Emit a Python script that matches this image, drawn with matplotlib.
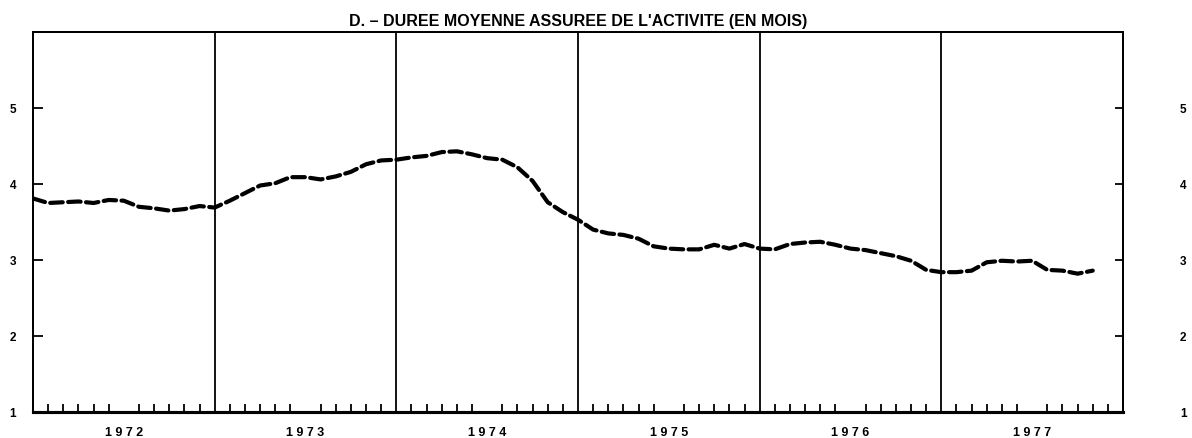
import numpy as np
import matplotlib
matplotlib.use("Agg")
import matplotlib.pyplot as plt

# monthly values, Jan 1972 .. Nov 1977 (months)
START_YEAR = 1972
YEARS = [1972, 1973, 1974, 1975, 1976, 1977]
DUREE = [
    3.81, 3.75, 3.76, 3.77, 3.75, 3.79, 3.78, 3.70, 3.68, 3.65, 3.67, 3.71,
    3.69, 3.78, 3.88, 3.98, 4.01, 4.09, 4.09, 4.06, 4.10, 4.16, 4.26, 4.31,
    4.32, 4.35, 4.37, 4.42, 4.43, 4.39, 4.34, 4.32, 4.22, 4.04, 3.76, 3.63,
    3.53, 3.40, 3.35, 3.33, 3.28, 3.18, 3.15, 3.14, 3.14, 3.20, 3.15, 3.21,
    3.15, 3.14, 3.21, 3.23, 3.24, 3.20, 3.15, 3.13, 3.09, 3.05, 2.99, 2.87,
    2.84, 2.84, 2.86, 2.97, 2.99, 2.98, 2.99, 2.87, 2.86, 2.82, 2.86,
]
Y_TICKS = [1, 2, 3, 4, 5]

FONT = "Liberation Sans"

fig = plt.figure(figsize=(11.92, 4.39), dpi=100)
ax = fig.add_axes([33 / 1192, 26 / 439, 1090 / 1192, 380 / 439])

x = START_YEAR + np.arange(len(DUREE)) / 12.0
ax.plot(x, DUREE, color="black", lw=3.0, dashes=(3.0, 1.3),
        dash_capstyle="round", dash_joinstyle="round")

for yr in YEARS[1:]:
    ax.axvline(yr, color="black", lw=1.3)

ax.set_xlim(YEARS[0], YEARS[-1] + 1)
ax.set_ylim(1, 6)

# x axis: year labels in the middle, month ticks inward
ax.set_xticks([y + 0.5 for y in YEARS])
ax.set_xticklabels([" ".join(str(y)) for y in YEARS],
                   fontfamily=FONT, fontweight="bold", fontsize=9)
ax.tick_params(axis="x", which="major", length=0, pad=10)
months = [START_YEAR + m / 12.0 for m in range(1, 12 * len(YEARS)) if m % 12]
ax.set_xticks(months, minor=True)
ax.tick_params(axis="x", which="minor", direction="in", length=6, width=1.3)

# y axis left
ax.set_yticks(Y_TICKS)
ax.set_yticklabels([str(v) for v in Y_TICKS], fontfamily=FONT,
                   fontweight="bold", fontsize=8.5)
ax.tick_params(axis="y", direction="in", length=7, width=1.3, pad=12)

# y axis right, labels far out
ax2 = ax.twinx()
ax2.set_ylim(1, 6)
ax2.set_yticks(Y_TICKS)
ax2.set_yticklabels([str(v) for v in Y_TICKS], fontfamily=FONT,
                    fontweight="bold", fontsize=8.5)
ax2.tick_params(axis="y", direction="in", length=6, width=1.3, pad=41)

for a in (ax, ax2):
    for side in ("left", "right", "top"):
        a.spines[side].set_linewidth(1.4)
    a.spines["bottom"].set_linewidth(2.2)

ax.set_title("D. \u2013 DUREE MOYENNE ASSUREE DE L'ACTIVITE (EN MOIS)",
             fontfamily=FONT, fontweight="bold", fontsize=11.5, pad=5)

fig.savefig("out.png", dpi=100)
